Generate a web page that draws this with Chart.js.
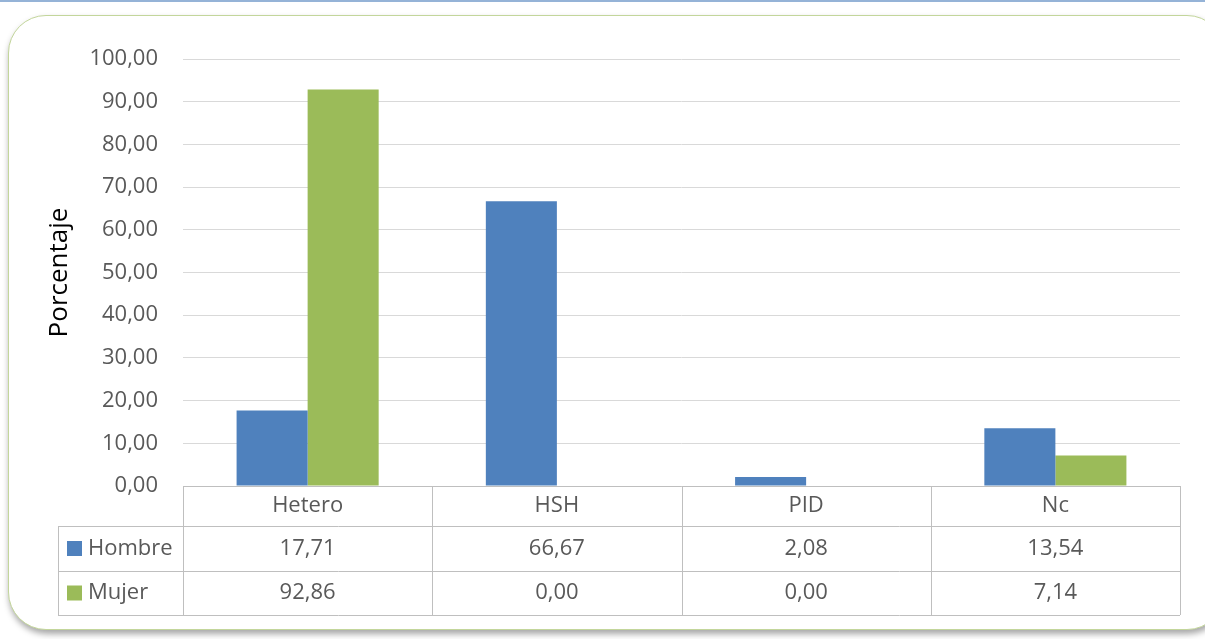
<!DOCTYPE html>
<html>
<head>
<meta charset="utf-8">
<script src="https://cdn.jsdelivr.net/npm/chart.js@4.4.0/dist/chart.umd.min.js"></script>
<style>
  body { margin: 0; background: #fff; width: 1205px; height: 639px; overflow: hidden; position: relative; }
  #linea { position: absolute; left: 0; top: 0; width: 1205px; height: 2px; background: #95b3d7; }
  #marco { position: absolute; left: 8px; top: 15px; width: 1215px; height: 613px;
           border: 1px solid #c3d69b; border-radius: 38px; box-shadow: 1px 4px 6px rgba(0,0,0,0.35); background: #fff; }
  #grafico { position: absolute; left: 0; top: 0; }
</style>
</head>
<body>
<div id="linea"></div>
<div id="marco"></div>
<canvas id="grafico" width="1205" height="639"></canvas>
<script>
const categorias = ['Hetero', 'HSH', 'PID', 'Nc'];
const hombre = [17.71, 66.67, 2.08, 13.54];
const mujer = [92.86, 0.00, 0.00, 7.14];
const series = ['Hombre', 'Mujer'];
const colores = ['#4f81bd', '#9bbb59'];

const fuente = '"Open Sans", "DejaVu Sans", sans-serif';
const colorTexto = '#595959';
const colorTabla = '#bfbfbf';

function formato(v) {
  return v.toFixed(2).replace('.', ',');
}

// Tabla de datos debajo del gráfico (estilo Excel)
const tablaDatos = {
  id: 'tablaDatos',
  afterDraw(chart) {
    const ctx = chart.ctx;
    const area = chart.chartArea;
    const n = categorias.length;
    const ancho = (area.right - area.left) / n;
    const filas = [area.bottom, 526, 571, 615];
    const izqLeyenda = 58;
    const valores = [hombre, mujer];

    ctx.save();
    ctx.strokeStyle = colorTabla;
    ctx.lineWidth = 1;
    ctx.beginPath();
    // horizontales
    ctx.moveTo(area.left, filas[0] + 0.5); ctx.lineTo(area.right, filas[0] + 0.5);
    for (let i = 1; i < filas.length; i++) {
      ctx.moveTo(izqLeyenda, filas[i] + 0.5); ctx.lineTo(area.right, filas[i] + 0.5);
    }
    // verticales
    ctx.moveTo(izqLeyenda + 0.5, filas[1]); ctx.lineTo(izqLeyenda + 0.5, filas[3]);
    for (let i = 0; i <= n; i++) {
      const x = Math.round(area.left + i * ancho) + 0.5;
      ctx.moveTo(x, filas[0]); ctx.lineTo(x, filas[3]);
    }
    ctx.stroke();

    ctx.fillStyle = colorTexto;
    ctx.font = '22px ' + fuente;
    ctx.textAlign = 'center';
    ctx.textBaseline = 'middle';
    for (let i = 0; i < n; i++) {
      const cx = area.left + (i + 0.5) * ancho;
      ctx.fillText(categorias[i], cx, (filas[0] + filas[1]) / 2);
      for (let s = 0; s < valores.length; s++) {
        ctx.fillText(formato(valores[s][i]), cx, (filas[s + 1] + filas[s + 2]) / 2);
      }
    }
    // leyenda
    ctx.textAlign = 'left';
    for (let s = 0; s < series.length; s++) {
      const cy = (filas[s + 1] + filas[s + 2]) / 2;
      ctx.fillStyle = colores[s];
      ctx.fillRect(67, cy - 7.5, 15, 15);
      ctx.fillStyle = colorTexto;
      ctx.fillText(series[s], 88, cy);
    }
    ctx.restore();
  }
};

const ctx = document.getElementById('grafico').getContext('2d');
new Chart(ctx, {
  type: 'bar',
  data: {
    labels: categorias,
    datasets: [
      { label: series[0], data: hombre, backgroundColor: colores[0] },
      { label: series[1], data: mujer, backgroundColor: colores[1] }
    ]
  },
  options: {
    responsive: false,
    animation: false,
    layout: { padding: { left: 36, right: 25, top: 59, bottom: 153 } },
    datasets: { bar: { barPercentage: 1, categoryPercentage: 0.57 } },
    plugins: {
      legend: { display: false },
      tooltip: { enabled: false }
    },
    scales: {
      x: { display: false },
      y: {
        min: 0,
        max: 100,
        afterFit: s => { s.width = 147; },
        border: { display: false },
        grid: { color: '#d9d9d9', drawTicks: false },
        ticks: {
          stepSize: 10,
          padding: 25,
          color: colorTexto,
          font: { family: fuente, size: 22 },
          callback: v => formato(v)
        },
        title: {
          display: true,
          text: 'Porcentaje',
          color: '#000',
          font: { family: fuente, size: 26 },
          padding: { top: 8, bottom: 0 }
        }
      }
    }
  },
  plugins: [tablaDatos]
});
</script>
</body>
</html>
